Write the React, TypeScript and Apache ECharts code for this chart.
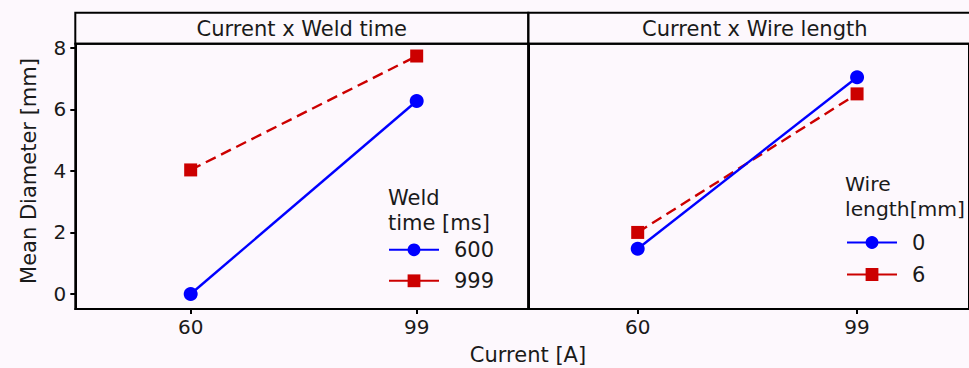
import React, { useEffect, useRef } from 'react';
import * as echarts from 'echarts';

// ---- data ----
const currentLevels = [60, 99];
const yTicks = [0, 2, 4, 6, 8];
const weldTimeNames = ['600', '999'];
const weld600 = [0.0, 6.27];
const weld999 = [4.03, 7.73];
const wireNames = ['0', '6'];
const wire0 = [1.47, 7.04];
const wire6 = [2.0, 6.5];
const panelTitles = ['Current x Weld time', 'Current x Wire length'];
const legendTitles = ['Weld\ntime [ms]', 'Wire\nlength[mm]'];
const xAxisTitle = 'Current [A]';
const yAxisTitle = 'Mean Diameter [mm]';

const FONT = 'DejaVu Sans';
const TXT = '#1a1a1a';
const BG = '#fdf8fd';
const BLUE = '#0000ff';
const RED = '#cc0000';

const pairs = (ys: number[]) => currentLevels.map((x, i) => [x, ys[i]]);

export default function App() {
  const ref = useRef<HTMLDivElement>(null);
  useEffect(() => {
    if (!ref.current) return;
    const chart = echarts.init(ref.current, undefined, { renderer: 'svg' });
    const gridTop = 43.7;
    const gridH = 265.3;
    const panelW = 453;
    const lefts = [75.3, 528.3];
    const xRanges = [
      [40.09, 118.26],
      [40.55, 118.9],
    ];
    const yMin = -0.487;
    const yMax = 8.13;

    const xAxes = lefts.map((_, i) => ({
      gridIndex: i,
      type: 'value',
      min: xRanges[i][0],
      max: xRanges[i][1],
      axisLine: { show: true, onZero: false, lineStyle: { color: '#000', width: 2 } },
      axisTick: { show: true, customValues: currentLevels, length: 5, lineStyle: { color: '#000', width: 2 } },
      axisLabel: { customValues: currentLevels, fontSize: 20, color: TXT, fontFamily: FONT, margin: 8 },
      splitLine: { show: false },
    }));
    const yAxes = lefts.map((_, i) => ({
      gridIndex: i,
      type: 'value',
      min: yMin,
      max: yMax,
      axisLine: { show: true, onZero: false, lineStyle: { color: '#000', width: 2 } },
      axisTick: { show: i === 0, customValues: yTicks, length: 5, lineStyle: { color: '#000', width: 2 } },
      axisLabel: { show: i === 0, customValues: yTicks, fontSize: 20, color: TXT, fontFamily: FONT, margin: 9 },
      splitLine: { show: false },
    }));

    const mkSeries = (name: string, ys: number[], idx: number, blue: boolean) => ({
      name,
      type: 'line',
      xAxisIndex: idx,
      yAxisIndex: idx,
      data: pairs(ys),
      symbol: blue ? 'circle' : 'rect',
      symbolSize: blue ? 14 : 13,
      itemStyle: { color: blue ? BLUE : RED },
      lineStyle: { color: blue ? BLUE : RED, width: 2.4, type: blue ? 'solid' : [11, 6] },
      z: blue ? 3 : 2,
    });

    const legendCommon = {
      orient: 'vertical',
      itemWidth: 50,
      itemHeight: 16,
      padding: 0,
      selectedMode: false,
      lineStyle: { type: 'solid' },
      textStyle: { fontSize: 21, lineHeight: 20, color: TXT, fontFamily: FONT, padding: [0, 0, 0, 10] },
    };

    chart.setOption({
      animation: false,
      backgroundColor: BG,
      grid: lefts.map((l) => ({
        left: l,
        top: gridTop,
        width: panelW,
        height: gridH,
        show: true,
        borderColor: '#000',
        borderWidth: 2,
        backgroundColor: 'transparent',
      })),
      xAxis: xAxes,
      yAxis: yAxes,
      legend: [
        { ...legendCommon, data: weldTimeNames, left: 388, top: 239.3, itemGap: 10 },
        { ...legendCommon, data: wireNames, left: 846, top: 232, itemGap: 11 },
      ],
      series: [
        mkSeries(weldTimeNames[0], weld600, 0, true),
        mkSeries(weldTimeNames[1], weld999, 0, false),
        mkSeries(wireNames[0], wire0, 1, true),
        mkSeries(wireNames[1], wire6, 1, false),
      ],
      graphic: [
        ...lefts.map((l) => ({
          type: 'rect',
          shape: { x: l, y: 12.7, width: panelW, height: 31 },
          style: { fill: 'none', stroke: '#000', lineWidth: 2 },
          z: 10,
        })),
        ...lefts.map((l, i) => ({
          type: 'text',
          x: l + panelW / 2,
          y: 28.5,
          style: {
            text: panelTitles[i],
            fontSize: 21,
            fontFamily: FONT,
            fill: TXT,
            textAlign: 'center',
            textVerticalAlign: 'middle',
          },
          z: 10,
        })),
        {
          type: 'text',
          x: 388,
          y: 185.5,
          style: { text: legendTitles[0], fontSize: 21, lineHeight: 25, fontFamily: FONT, fill: TXT, textAlign: 'left', textVerticalAlign: 'top' },
        },
        {
          type: 'text',
          x: 845,
          y: 171.5,
          style: { text: legendTitles[1], fontSize: 20.3, lineHeight: 25, fontFamily: FONT, fill: TXT, textAlign: 'left', textVerticalAlign: 'top' },
        },
        {
          type: 'text',
          x: 528,
          y: 355,
          style: { text: xAxisTitle, fontSize: 21, fontFamily: FONT, fill: TXT, textAlign: 'center', textVerticalAlign: 'middle' },
        },
        {
          type: 'text',
          x: 29,
          y: 171,
          rotation: Math.PI / 2,
          style: { text: yAxisTitle, fontSize: 21, fontFamily: FONT, fill: TXT, textAlign: 'center', textVerticalAlign: 'middle' },
        },
      ],
    });
    return () => chart.dispose();
  }, []);
  return (
    <div
      ref={ref}
      style={{ position: 'fixed', left: 0, top: 0, width: 969, height: 368, background: BG }}
    />
  );
}
